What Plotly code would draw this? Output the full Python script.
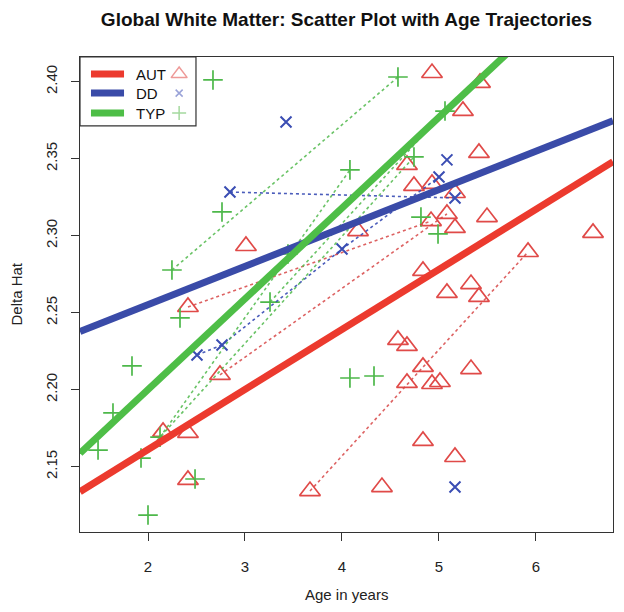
import plotly.graph_objects as go

# ---------------- data ----------------
x_range = [1.299, 6.794]
y_range = [2.1076, 2.416]
x_ticks = [2, 3, 4, 5, 6]
y_ticks = [2.15, 2.20, 2.25, 2.30, 2.35, 2.40]
y_tick_text = ["2.15", "2.20", "2.25", "2.30", "2.35", "2.40"]

groups = ["AUT", "DD", "TYP"]

aut_age = [4.928, 5.423, 5.247, 5.412, 4.670, 4.742, 4.928, 5.165, 4.165, 3.010,
           5.082, 4.918, 5.165, 5.495, 6.588, 5.918, 4.835, 5.082, 5.330, 5.412,
           2.412, 2.742, 2.155, 2.412, 2.412, 4.577, 4.670, 4.835, 4.670, 4.928,
           5.010, 5.330, 4.835, 5.165, 4.412, 3.670]
aut_delta = [2.4056, 2.3992, 2.3810, 2.3537, 2.3459, 2.3323, 2.3336, 2.3277, 2.3030, 2.2933,
             2.3141, 2.3095, 2.3050, 2.3121, 2.3018, 2.2894, 2.2771, 2.2628, 2.2686, 2.2602,
             2.2537, 2.2096, 2.1726, 2.1719, 2.1414, 2.2323, 2.2284, 2.2148, 2.2044, 2.2037,
             2.2050, 2.2134, 2.1667, 2.1563, 2.1368, 2.1342]
aut_subject = [0, 0, 0, 0, 0, 0, 0, 0, 0, 0,
               2, 1, 0, 0, 0, 3, 0, 0, 0, 0,
               1, 2, 0, 0, 0, 0, 0, 0, 0, 0,
               0, 0, 0, 0, 0, 3]

dd_age = [3.423, 2.845, 5.082, 5.000, 5.165, 4.000, 2.505, 2.763, 5.165]
dd_delta = [2.3738, 2.3283, 2.3492, 2.3381, 2.3245, 2.2913, 2.2225, 2.2290, 2.1368]
dd_subject = [0, 1, 0, 2, 1, 2, 2, 2, 0]

typ_age = [2.670, 4.577, 5.062, 4.082, 4.742, 2.763, 4.814, 4.990, 2.247, 3.258,
           3.443, 2.330, 1.835, 1.639, 1.485, 1.928, 2.124, 2.485, 2.000, 4.082,
           4.330]
typ_delta = [2.4011, 2.4030, 2.3809, 2.3427, 2.3511, 2.3154, 2.3121, 2.3011, 2.2777, 2.2569,
             2.2881, 2.2466, 2.2154, 2.1849, 2.1608, 2.1556, 2.1692, 2.1420, 2.1186, 2.2076,
             2.2089]
typ_subject = [0, 1, 4, 2, 3, 0, 0, 0, 1, 4,
               0, 0, 0, 0, 0, 3, 2, 0, 0, 0,
               0]

fit_intercept = [2.0831, 2.2054, 2.0821]
fit_slope = [0.0390, 0.0249, 0.05896]

# ---------------- styles ----------------
line_colors = ["#EC3A2E", "#3A4BA8", "#4EBE47"]
point_colors = ["#E04A48", "#3A4DB3", "#4DB84A"]
dot_colors = ["rgba(215,70,70,0.85)", "rgba(55,75,180,0.9)", "rgba(80,185,75,0.85)"]
legend_sym_colors = ["#EE9A98", "#9AA3D8", "#A4D99E"]
symbols = ["triangle-up-open", "x-thin-open", "cross-thin-open"]
sizes = [18, 11, 14]
sym_widths = [1.7, 2.0, 1.7]

data_sets = [
    (aut_age, aut_delta, aut_subject),
    (dd_age, dd_delta, dd_subject),
    (typ_age, typ_delta, typ_subject),
]

fig = go.Figure()

# points
for g, (ages, vals, subj) in enumerate(data_sets):
    fig.add_trace(go.Scatter(
        x=ages, y=vals, mode="markers", name=groups[g],
        marker=dict(symbol=symbols[g], size=sizes[g], color=point_colors[g],
                    line=dict(color=point_colors[g], width=sym_widths[g])),
        showlegend=False, hoverinfo="skip"))

# longitudinal (dotted) trajectories
for g, (ages, vals, subj) in enumerate(data_sets):
    ids = sorted(set(s for s in subj if s))
    for sid in ids:
        pts = sorted((a, v) for a, v, s in zip(ages, vals, subj) if s == sid)
        fig.add_trace(go.Scatter(
            x=[p[0] for p in pts], y=[p[1] for p in pts], mode="lines",
            line=dict(color=dot_colors[g], width=1.6, dash="3px,3px"),
            showlegend=False, hoverinfo="skip"))

# group regression trajectories
for g in range(3):
    xs = [x_range[0], x_range[1]]
    ys = [fit_intercept[g] + fit_slope[g] * x for x in xs]
    fig.add_trace(go.Scatter(
        x=xs, y=ys, mode="lines",
        line=dict(color=line_colors[g], width=7),
        showlegend=False, hoverinfo="skip"))

# ---------------- legend (drawn on overlay axes in 0-1 units) ----------------
box_x = [0.0, 0.2176, 0.2176, 0.0, 0.0]
box_y = [1.0, 1.0, 0.855, 0.855, 1.0]
fig.add_trace(go.Scatter(x=box_x, y=box_y, xaxis="x2", yaxis="y2", mode="lines",
                         fill="toself", fillcolor="white",
                         line=dict(color="#333333", width=1.2),
                         showlegend=False, hoverinfo="skip"))
leg_y = [0.964, 0.924, 0.882]
for g in range(3):
    fig.add_trace(go.Scatter(x=[0.0206, 0.0826], y=[leg_y[g], leg_y[g]],
                             xaxis="x2", yaxis="y2", mode="lines",
                             line=dict(color=line_colors[g], width=7),
                             showlegend=False, hoverinfo="skip"))
    fig.add_trace(go.Scatter(x=[0.186], y=[leg_y[g]], xaxis="x2", yaxis="y2",
                             mode="markers",
                             marker=dict(symbol=symbols[g], size=sizes[g] - 4,
                                         color=legend_sym_colors[g],
                                         line=dict(color=legend_sym_colors[g], width=1.5)),
                             showlegend=False, hoverinfo="skip"))
    fig.add_annotation(x=0.101, y=leg_y[g], xref="paper", yref="paper",
                       text=groups[g], showarrow=False, xanchor="left", yanchor="middle",
                       font=dict(size=15, color="#111111"))

# axis titles
fig.add_annotation(x=0.5, y=-0.1326, xref="paper", yref="paper", text="Age in years",
                   showarrow=False, xanchor="center", yanchor="middle",
                   font=dict(size=15, color="#222222"))
fig.add_annotation(x=-0.120, y=0.5, xref="paper", yref="paper", text="Delta Hat",
                   textangle=-90, showarrow=False, xanchor="center", yanchor="middle",
                   font=dict(size=15, color="#222222"))

# the page body adds an 8px offset, so margins are shifted by 8px
fig.update_layout(
    width=624, height=612,
    margin=dict(l=72, r=19, t=49, b=88, autoexpand=False),
    paper_bgcolor="white", plot_bgcolor="white",
    showlegend=False,
    font=dict(family="Liberation Sans, Arial, sans-serif", color="#222222"),
    title=dict(text="<b>Global White Matter: Scatter Plot with Age Trajectories</b>",
               x=0.5, xref="paper", xanchor="center", y=1 - 11 / 612, yanchor="middle",
               font=dict(size=19, color="#111111")),
    xaxis=dict(range=x_range, tickvals=x_ticks, ticktext=[str(t) for t in x_ticks],
               ticks="outside", ticklen=8, tickwidth=1, tickcolor="#333333",
               showline=True, linecolor="#333333", linewidth=1.2, mirror=True,
               showgrid=False, zeroline=False, tickfont=dict(size=15),
               ticklabelstandoff=13, automargin=False),
    yaxis=dict(range=y_range, tickvals=y_ticks, ticktext=y_tick_text,
               ticks="outside", ticklen=8, tickwidth=1, tickcolor="#333333",
               showline=True, linecolor="#333333", linewidth=1.2, mirror=True,
               showgrid=False, zeroline=False, tickfont=dict(size=15),
               tickangle=-90, ticklabelstandoff=8, automargin=False),
    xaxis2=dict(overlaying="x", range=[0, 1], visible=False, domain=[0, 1]),
    yaxis2=dict(overlaying="y", range=[0, 1], visible=False, domain=[0, 1]),
)

fig.write_html("out.html")
